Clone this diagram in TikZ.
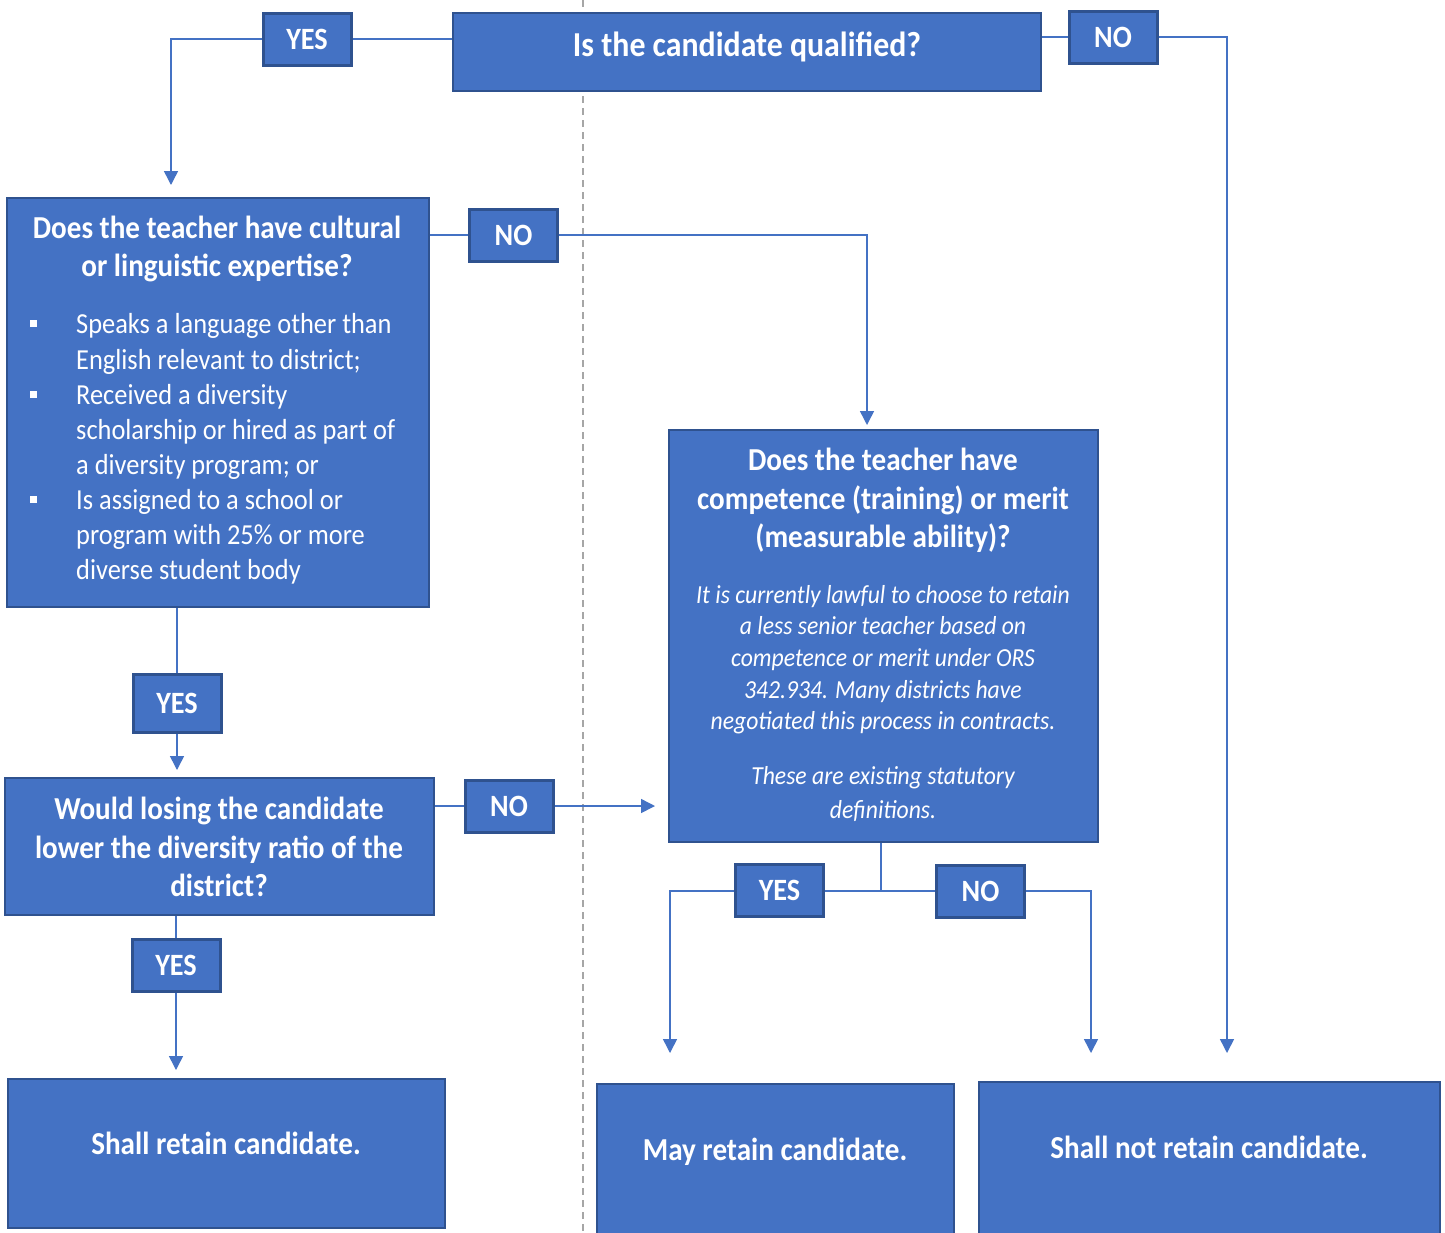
\documentclass[tikz,border=0pt]{standalone}
\usepackage{fontspec}
\setmainfont{Carlito}[FakeStretch=0.91]
\usetikzlibrary{arrows.meta,backgrounds}
\definecolor{boxfill}{HTML}{4472C4}
\definecolor{boxedge}{HTML}{2F528F}
\definecolor{dashgray}{HTML}{A6A6A6}
\begin{document}
\begin{tikzpicture}[x=1pt,y=-1pt,
  bigbox/.style={draw=boxedge, line width=2.5pt, fill=boxfill, inner sep=0pt},
  lab/.style={draw=boxedge, line width=3pt, fill=boxfill, text=white,
    font=\bfseries\fontsize{31}{36}\selectfont, minimum width=88pt, minimum height=52pt, inner sep=0pt},
  conn/.style={draw=boxfill, line width=1.5pt},
  arr/.style={conn, -{Triangle[width=14pt,length=14pt]}},
  ttl/.style={text=white, font=\bfseries\fontsize{32}{39}\selectfont, anchor=base, inner sep=0pt},
  qttl/.style={text=white, font=\bfseries\fontsize{35}{42}\selectfont, anchor=base, inner sep=0pt},
  bod/.style={text=white, font=\fontsize{29}{35}\selectfont, anchor=base west, inner sep=0pt},
  itl/.style={text=white, font=\itshape\fontsize{26}{32}\selectfont, anchor=base, inner sep=0pt},
  bul/.style={fill=white, minimum size=7pt, inner sep=0pt},
  sep/.style={draw=dashgray, line width=2pt, dash pattern=on 7pt off 5pt}
]
\clip (0,0) rectangle (1445,1232);

% main boxes
\node[bigbox, minimum width=588pt, minimum height=78pt] (q1) at (747,52) {};
\node[bigbox, minimum width=422pt, minimum height=409pt] (boxA) at (218,402.5) {};
\node[bigbox, minimum width=429pt, minimum height=412pt] (boxB) at (883.5,636) {};
\node[bigbox, minimum width=429pt, minimum height=137pt] (boxC) at (219.5,846.5) {};
\node[bigbox, minimum width=437pt, minimum height=149pt] (boxD) at (226.5,1153.5) {};
\node[bigbox, minimum width=357pt, minimum height=180pt] (boxE) at (775.5,1174) {};
\node[bigbox, minimum width=461pt, minimum height=182pt] (boxF) at (1209.5,1173) {};

% texts
\node[qttl] (tq1) at (747,56) {Is the candidate qualified?};

\node[ttl] (tA1) at (217,238) {Does the teacher have cultural};
\node[ttl] (tA2) at (217,276.5) {or linguistic expertise?};
\node[bod] (tA3) at (76,333) {Speaks a language other than};
\node[bod] (tA4) at (76,369) {English relevant to district;};
\node[bod] (tA5) at (76,404) {Received a diversity};
\node[bod] (tA6) at (76,439) {scholarship or hired as part of};
\node[bod] (tA7) at (76,474) {a diversity program; or};
\node[bod] (tA8) at (76,509) {Is assigned to a school or};
\node[bod] (tA9) at (76,544) {program with 25\% or more};
\node[bod] (tA10) at (76,579) {diverse student body};
\node[bul] (bu1) at (33,323.5) {};
\node[bul] (bu2) at (33,394.5) {};
\node[bul] (bu3) at (33,499.5) {};

\node[ttl] (tB1) at (883,470) {Does the teacher have};
\node[ttl] (tB2) at (883,509) {competence (training) or merit};
\node[ttl] (tB3) at (883,547) {(measurable ability)?};
\node[itl] (tB4) at (883,603) {It is currently lawful to choose to retain};
\node[itl] (tB5) at (883,634) {a less senior teacher based on};
\node[itl] (tB6) at (883,666) {competence or merit under ORS};
\node[itl] (tB7) at (883,698) {342.934. Many districts have};
\node[itl] (tB8) at (883,729) {negotiated this process in contracts.};
\node[itl] (tB9) at (883,784) {These are existing statutory};
\node[itl] (tB10) at (883,818) {definitions.};

\node[ttl] (tC1) at (219,819) {Would losing the candidate};
\node[ttl] (tC2) at (219,858) {lower the diversity ratio of the};
\node[ttl] (tC3) at (219,896) {district?};

\node[ttl] (tD) at (226,1154) {Shall retain candidate.};
\node[ttl] (tE) at (775,1160) {May retain candidate.};
\node[ttl] (tF) at (1209,1158) {Shall not retain candidate.};

% labels
\node[lab] (yes1) at (307,39) {YES};
\node[lab] (no1) at (1113,37) {NO};
\node[lab] (no2) at (513.5,235) {NO};
\node[lab, minimum height=58pt] (yes3) at (177,703) {YES};
\node[lab] (no4) at (509,806) {NO};
\node[lab] (yes4) at (176,965) {YES};
\node[lab] (yes5) at (779.5,890) {YES};
\node[lab] (no5) at (980.5,891) {NO};

% arrow end points
\coordinate (aIn) at (171,185);
\coordinate (fIn) at (1227,1053);
\coordinate (bIn) at (867,425);
\coordinate (cIn) at (177,770);
\coordinate (bSide) at (655,806);
\coordinate (dIn) at (176,1070);
\coordinate (split) at (881,891);
\coordinate (eIn) at (670,1053);
\coordinate (fIn2) at (1091,1053);
\coordinate (sepTop) at (583,0);
\coordinate (sepBot) at (583,1232);

\begin{scope}[on background layer]
  \fill[white] (0,0) rectangle (1445,1232);
  \draw[sep] (sepTop) -- (sepBot);
  \draw[arr] (q1.west |- yes1) -| (aIn);
  \draw[arr] (q1.east |- no1) -| (fIn);
  \draw[arr] (boxA.east |- no2) -| (bIn);
  \draw[arr] (boxA.south -| yes3) -- (cIn);
  \draw[arr] (boxC.east |- no4) -- (bSide);
  \draw[arr] (boxC.south -| yes4) -- (dIn);
  \draw[conn] (boxB.south -| split) -- (split);
  \draw[arr] (split) -| (eIn);
  \draw[arr] (split) -| (fIn2);
\end{scope}
\end{tikzpicture}
\end{document}
